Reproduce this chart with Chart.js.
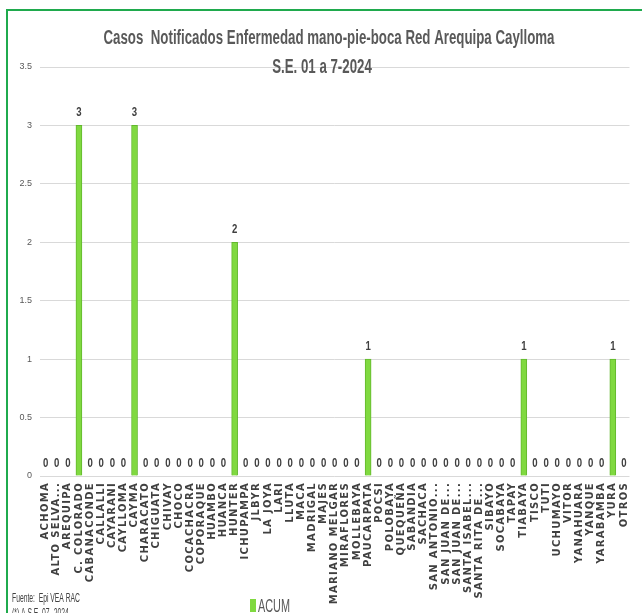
<!DOCTYPE html>
<html>
<head>
<meta charset="utf-8">
<script src="https://cdn.jsdelivr.net/npm/chart.js@4.4.1/dist/chart.umd.min.js"></script>
<style>
  html, body { margin: 0; padding: 0; background: #fff; overflow: hidden; }
  #wrap { position: relative; width: 642px; height: 613px; }
  #frame {
    position: absolute; left: 6px; top: 9px; width: 650px; height: 620px;
    border-top: 2px solid #1faa4d; border-left: 2px solid #1faa4d;
    pointer-events: none;
  }
</style>
</head>
<body>
<div id="wrap">
  <canvas id="chart" width="642" height="613"></canvas>
  <div id="frame"></div>
</div>
<script>
  'use strict';

  var titleLines = [
    'Casos  Notificados Enfermedad mano-pie-boca Red Arequipa Caylloma',
    'S.E. 01 a 7-2024'
  ];
  var footerLines = ['Fuente:  Epi VEA RAC', '(*) A S.E. 07- 2024'];

  var districts = [
    'ACHOMA', 'ALTO SELVA...', 'AREQUIPA', 'C. COLORADO', 'CABANACONDE',
    'CALLALLI', 'CAYARANI', 'CAYLLOMA', 'CAYMA', 'CHARACATO', 'CHIGUATA',
    'CHIVAY', 'CHOCO', 'COCACHACRA', 'COPORAQUE', 'HUAMBO', 'HUANCA',
    'HUNTER', 'ICHUPAMPA', 'JLBYR', 'LA JOYA', 'LARI', 'LLUTA', 'MACA',
    'MADRIGAL', 'MAJES', 'MARIANO MELGAR', 'MIRAFLORES', 'MOLLEBAYA',
    'PAUCARPATA', 'POCSI', 'POLOBAYA', 'QUEQUEÑA', 'SABANDIA', 'SACHACA',
    'SAN ANTONIO...', 'SAN JUAN DE...', 'SAN JUAN DE...', 'SANTA ISABEL...',
    'SANTA RITA DE...', 'SIBAYO', 'SOCABAYA', 'TAPAY', 'TIABAYA', 'TISCO',
    'TUTI', 'UCHUMAYO', 'VITOR', 'YANAHUARA', 'YANQUE', 'YARABAMBA',
    'YURA', 'OTROS'
  ];

  var acum = [
    0, 0, 0, 3, 0,
    0, 0, 0, 3, 0, 0,
    0, 0, 0, 0, 0, 0,
    2, 0, 0, 0, 0, 0, 0,
    0, 0, 0, 0, 0,
    1, 0, 0, 0, 0, 0,
    0, 0, 0, 0,
    0, 0, 0, 0, 1, 0,
    0, 0, 0, 0, 0, 0,
    1, 0
  ];

  var yTicks = [0, 0.5, 1, 1.5, 2, 2.5, 3, 3.5];

  var SANS = "'Liberation Sans', Arial, sans-serif";
  var WIDE = "'DejaVu Sans', Verdana, sans-serif";
  var BAR_GREEN = '#80d940';

  // No narrow face installed: squeeze Liberation Sans horizontally instead.
  function narrowText(ctx, text, x, y, squeeze) {
    ctx.save();
    ctx.translate(x, y);
    ctx.scale(squeeze, 1);
    ctx.fillText(text, 0, 0);
    ctx.restore();
  }

  // Title, footer, legend and the value labels over each bar.
  var decorations = {
    id: 'decorations',
    beforeDraw: function (chart) {
      // spaced look of the rotated district labels (x ticks draw before datasets)
      chart.ctx.letterSpacing = '1.3px';
    },
    afterDatasetsDraw: function (chart) {
      var ctx = chart.ctx;
      ctx.letterSpacing = '0px';
      var meta = chart.getDatasetMeta(0);
      var values = chart.data.datasets[0].data;
      ctx.save();
      ctx.font = 'bold 12px ' + SANS;
      ctx.fillStyle = '#404040';
      ctx.textAlign = 'center';
      ctx.textBaseline = 'alphabetic';
      meta.data.forEach(function (bar, i) {
        narrowText(ctx, String(values[i]), bar.x, bar.y - 9, 0.8);
      });
      ctx.restore();
    },
    afterDraw: function (chart) {
      var ctx = chart.ctx;
      ctx.save();
      ctx.letterSpacing = '0px';

      // title
      ctx.fillStyle = '#595959';
      ctx.textAlign = 'center';
      ctx.textBaseline = 'alphabetic';
      ctx.font = 'bold 20px ' + SANS;
      var squeeze = 451 / ctx.measureText(titleLines[0]).width;
      narrowText(ctx, titleLines[0], 329, 44, squeeze);
      narrowText(ctx, titleLines[1], 322, 73, squeeze);

      // footer
      ctx.textAlign = 'left';
      ctx.font = '12px ' + SANS;
      ctx.fillStyle = '#404040';
      var fsq = 68 / ctx.measureText(footerLines[0]).width;
      narrowText(ctx, footerLines[0], 12, 602, fsq);
      narrowText(ctx, footerLines[1], 12, 617, fsq);

      // legend
      var ds = chart.data.datasets[0];
      ctx.fillStyle = ds.backgroundColor;
      ctx.fillRect(250, 599, 6, 13);
      ctx.fillStyle = '#595959';
      ctx.font = '19px ' + SANS;
      narrowText(ctx, ds.label, 258, 612, 32 / ctx.measureText(ds.label).width);
      ctx.restore();
    }
  };

  new Chart(document.getElementById('chart'), {
    type: 'bar',
    data: {
      labels: districts,
      datasets: [{
        label: 'ACUM',
        data: acum,
        backgroundColor: BAR_GREEN,
        borderColor: '#62b82d',
        borderWidth: 1,
        barThickness: 6
      }]
    },
    options: {
      responsive: false,
      animation: false,
      layout: { padding: { top: 67, right: 8, left: 0, bottom: 0 } },
      plugins: {
        legend: { display: false },
        title: { display: false },
        tooltip: { enabled: false }
      },
      scales: {
        x: {
          grid: { display: false, drawTicks: false },
          border: { display: false },
          ticks: {
            autoSkip: false,
            minRotation: 90,
            maxRotation: 90,
            padding: 6,
            color: '#404040',
            font: { family: WIDE, size: 10, weight: 'bold' }
          },
          afterFit: function (scale) { scale.height = 137; }
        },
        y: {
          min: 0,
          max: 3.5,
          afterBuildTicks: function (scale) {
            scale.ticks = yTicks.map(function (v) { return { value: v }; });
          },
          grid: { color: '#d9d9d9', lineWidth: 1, drawTicks: false },
          border: { display: false },
          ticks: {
            z: 1,
            padding: 8,
            color: '#595959',
            font: { family: SANS, size: 9 },
            callback: function (v) { return String(v); }
          },
          afterFit: function (scale) { scale.width = 40; }
        }
      }
    },
    plugins: [decorations]
  });
</script>
</body>
</html>
